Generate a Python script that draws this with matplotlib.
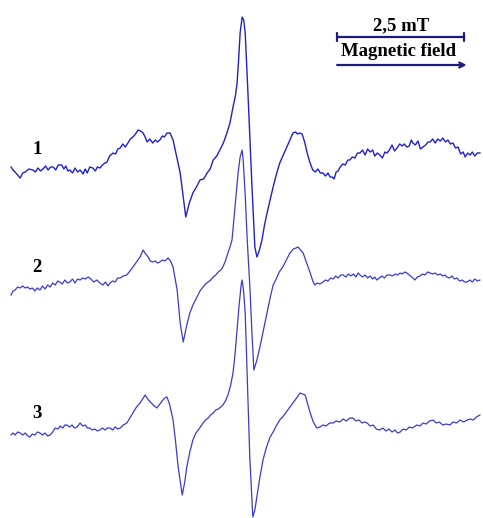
import numpy as np
import matplotlib.pyplot as plt

# EPR spectra, field in mT, signal in arbitrary units
field_1 = [0.02, 0.06, 0.10, 0.15, 0.20, 0.25, 0.30, 0.37, 0.45, 0.50, 0.55, 0.60, 0.65, 0.70,
           0.75, 0.80, 0.85, 0.90, 0.95, 1.02, 1.06, 1.10, 1.14, 1.18, 1.23, 1.28, 1.33, 1.38,
           1.44, 1.48, 1.52, 1.57, 1.63, 1.68, 1.72, 1.77, 1.84, 1.91, 1.96, 2.03, 2.08, 2.12,
           2.17, 2.22, 2.27, 2.32, 2.37, 2.42, 2.47, 2.52, 2.57, 2.62, 2.66, 2.70, 2.75, 2.81,
           2.86, 2.90, 2.95, 3.00, 3.04, 3.09, 3.15, 3.21, 3.35, 3.46, 3.53, 3.60, 3.67, 3.74,
           3.81, 3.88, 3.94, 4.00, 4.07, 4.13, 4.20, 4.27, 4.33, 4.39, 4.44, 4.47, 4.50, 4.53,
           4.57, 4.60, 4.63, 4.69, 4.76, 4.82, 4.86, 4.91, 4.96, 5.01, 5.06, 5.12, 5.18, 5.24,
           5.31, 5.38, 5.45, 5.51, 5.57, 5.62, 5.66, 5.70, 5.75, 5.80, 5.85, 5.90, 5.96, 6.01,
           6.06, 6.11, 6.16, 6.21, 6.26, 6.30, 6.34, 6.38, 6.42, 6.46, 6.50, 6.55, 6.60, 6.65,
           6.69, 6.74, 6.79, 6.84, 6.89, 6.94, 6.99, 7.04, 7.09, 7.14, 7.18, 7.23, 7.28, 7.33,
           7.38, 7.42, 7.47, 7.52, 7.57, 7.62, 7.67, 7.72, 7.76, 7.81, 7.86, 7.90, 7.93, 7.98,
           8.03, 8.08, 8.13, 8.18, 8.23, 8.27, 8.32, 8.37, 8.42, 8.47, 8.52, 8.57, 8.62, 8.67,
           8.72, 8.77, 8.82, 8.87, 8.92, 8.96, 9.01, 9.06, 9.10, 9.15, 9.20, 9.25]
signal_1 = [3, 0, -2, -5, -8, -3, -2, 1, 0, -2, 2, -1, 1, 4,
            0, 3, 3, 0, 5, 5, 1, 4, -1, 0, -3, 2, -2, 0,
            -4, 1, -3, 3, 2, -1, 3, 2, 6, 8, 14, 17, 16, 21,
            22, 26, 23, 27, 31, 33, 36, 40, 39, 37, 33, 28, 31, 27,
            30, 28, 30, 34, 33, 37, 37, 30, -3, -47, -33, -23, -17, -10,
            -9, -3, 1, 10, 14, 20, 27, 37, 47, 63, 75, 87, 110, 137,
            153, 150, 137, 70, -13, -77, -87, -80, -70, -55, -43, -30, -17, -5,
            7, 15, 23, 30, 37, 38, 36, 37, 36, 28, 17, 8, 0, -2,
            1, -3, -3, -6, -3, -7, -7, -9, -2, -1, 3, 6, 5, 10,
            10, 13, 12, 17, 17, 20, 15, 21, 18, 20, 14, 17, 15, 12,
            18, 17, 20, 25, 19, 22, 26, 24, 26, 23, 24, 30, 27, 25,
            29, 21, 23, 25, 28, 28, 31, 27, 31, 29, 32, 28, 30, 26,
            27, 22, 23, 16, 18, 13, 17, 15, 18, 14, 17, 17]

field_2 = [0.02, 0.06, 0.10, 0.15, 0.20, 0.25, 0.30, 0.35, 0.39, 0.44, 0.49, 0.54, 0.59, 0.64,
           0.69, 0.74, 0.79, 0.84, 0.89, 0.94, 0.98, 1.03, 1.08, 1.13, 1.18, 1.23, 1.28, 1.33,
           1.38, 1.43, 1.48, 1.54, 1.59, 1.65, 1.71, 1.77, 1.83, 1.88, 1.93, 1.97, 2.02, 2.07,
           2.12, 2.17, 2.23, 2.30, 2.36, 2.42, 2.49, 2.56, 2.62, 2.67, 2.72, 2.76, 2.81, 2.86,
           2.90, 2.95, 3.00, 3.05, 3.11, 3.16, 3.21, 3.29, 3.35, 3.41, 3.48, 3.54, 3.61, 3.68,
           3.74, 3.80, 3.85, 3.90, 3.95, 4.00, 4.05, 4.10, 4.15, 4.19, 4.24, 4.29, 4.33, 4.37,
           4.43, 4.49, 4.53, 4.57, 4.59, 4.63, 4.67, 4.72, 4.76, 4.80, 4.86, 4.92, 4.99, 5.06,
           5.12, 5.18, 5.24, 5.30, 5.37, 5.44, 5.51, 5.58, 5.63, 5.67, 5.72, 5.77, 5.84, 5.91,
           5.96, 6.00, 6.05, 6.10, 6.16, 6.21, 6.26, 6.31, 6.36, 6.41, 6.46, 6.51, 6.56, 6.61,
           6.66, 6.71, 6.76, 6.81, 6.85, 6.89, 6.94, 6.99, 7.04, 7.09, 7.14, 7.18, 7.22, 7.27,
           7.32, 7.37, 7.42, 7.48, 7.53, 7.58, 7.63, 7.68, 7.72, 7.77, 7.81, 7.86, 7.91, 7.97,
           8.02, 8.07, 8.12, 8.17, 8.22, 8.27, 8.32, 8.37, 8.42, 8.47, 8.52, 8.56, 8.60, 8.65,
           8.70, 8.75, 8.80, 8.85, 8.90, 8.95, 9.00, 9.05, 9.10, 9.15, 9.20, 9.25]
signal_2 = [-10, -6, -5, -2, -3, -1, -3, -2, -4, -3, -6, -3, -5, -1,
            -4, 0, -2, 2, 0, 4, 3, 1, 5, 2, 3, 6, 2, 6,
            5, 7, 6, 8, 6, 3, 5, 2, 0, 3, -1, 2, 4, 3,
            7, 7, 9, 10, 14, 18, 23, 28, 35, 31, 28, 24, 23, 24,
            22, 23, 25, 24, 27, 24, 18, -5, -38, -57, -40, -28, -19, -12,
            -6, -2, 1, 3, 5, 8, 10, 13, 15, 18, 24, 32, 38, 45,
            78, 112, 128, 135, 125, 90, 45, 0, -45, -85, -75, -62, -45, -28,
            -13, 0, 6, 13, 18, 25, 32, 36, 37, 38, 35, 32, 22, 12,
            4, 0, 2, 1, 3, 5, 4, 7, 6, 9, 7, 10, 10, 8,
            11, 9, 11, 8, 12, 10, 8, 10, 7, 9, 6, 8, 5, 7,
            9, 7, 10, 10, 9, 11, 10, 12, 11, 13, 12, 10, 8, 5,
            8, 9, 11, 10, 13, 12, 11, 12, 10, 11, 9, 10, 8, 7,
            9, 6, 7, 4, 5, 3, 3, 5, 3, 6, 4, 5]

field_3 = [0.02, 0.06, 0.10, 0.15, 0.20, 0.25, 0.30, 0.35, 0.39, 0.44, 0.49, 0.54, 0.59, 0.64,
           0.69, 0.74, 0.79, 0.84, 0.89, 0.94, 0.99, 1.04, 1.08, 1.12, 1.17, 1.22, 1.27, 1.32,
           1.38, 1.43, 1.48, 1.52, 1.57, 1.62, 1.67, 1.72, 1.77, 1.82, 1.87, 1.92, 1.97, 2.02,
           2.07, 2.12, 2.17, 2.23, 2.30, 2.36, 2.42, 2.49, 2.56, 2.61, 2.66, 2.71, 2.76, 2.82,
           2.89, 2.95, 3.01, 3.05, 3.09, 3.14, 3.21, 3.26, 3.31, 3.39, 3.44, 3.48, 3.54, 3.60,
           3.66, 3.72, 3.80, 3.85, 3.90, 3.95, 4.00, 4.05, 4.10, 4.15, 4.19, 4.24, 4.29, 4.34,
           4.39, 4.43, 4.47, 4.51, 4.55, 4.57, 4.60, 4.63, 4.66, 4.69, 4.72, 4.76, 4.78, 4.82,
           4.86, 4.92, 4.98, 5.05, 5.12, 5.18, 5.24, 5.31, 5.38, 5.44, 5.51, 5.57, 5.64, 5.71,
           5.76, 5.81, 5.86, 5.91, 5.97, 6.04, 6.10, 6.16, 6.22, 6.29, 6.36, 6.42, 6.49, 6.56,
           6.62, 6.69, 6.75, 6.81, 6.87, 6.93, 6.98, 7.03, 7.09, 7.15, 7.21, 7.28, 7.34, 7.40,
           7.46, 7.52, 7.58, 7.63, 7.68, 7.74, 7.80, 7.86, 7.92, 8.01, 8.07, 8.13, 8.19, 8.26,
           8.33, 8.39, 8.45, 8.52, 8.59, 8.66, 8.72, 8.79, 8.86, 8.93, 9.00, 9.06, 9.12, 9.18, 9.25]
signal_3 = [-3, -1, -3, 0, -1, -3, -1, -4, -5, -2, -3, 0, -1, -3,
            -1, -4, -3, 0, 4, 3, 6, 4, 7, 7, 5, 7, 4, 5,
            9, 6, 7, 4, 4, 2, 3, 1, 2, 4, 2, 4, 4, 2,
            5, 3, 4, 7, 9, 14, 19, 25, 29, 33, 37, 33, 30, 27,
            24, 28, 32, 34, 35, 28, 12, -10, -35, -63, -50, -35, -20, -8,
            -1, 3, 9, 12, 14, 17, 19, 22, 23, 25, 27, 31, 37, 46,
            59, 78, 102, 127, 147, 152, 140, 119, 70, 19, -25, -65, -85, -78,
            -65, -45, -28, -15, -5, 0, 6, 12, 16, 20, 25, 29, 34, 39,
            38, 37, 28, 19, 10, 4, 5, 7, 6, 9, 9, 11, 10, 13,
            11, 14, 14, 11, 12, 9, 10, 9, 6, 7, 3, 2, 4, 1,
            3, 0, 2, -1, 0, 3, 2, 5, 4, 7, 6, 9, 8, 11,
            12, 9, 10, 7, 8, 7, 10, 9, 12, 10, 12, 13, 12, 15, 17]

labels = ["1", "2", "3"]
baselines = [-170, -285, -432]   # vertical offset of each trace
label_y = [-150, -268, -413]
bar_start = 6.44
bar_length = 2.5   # mT

fig = plt.figure(figsize=(4.83, 5.18), dpi=100)
ax = fig.add_axes([0, 0, 1, 1])
ax.set_xlim(-0.197, 9.311)
ax.set_ylim(-518, 0)
ax.axis("off")

colors = ["#2020d0", "#3a3ad2", "#3a3ad2"]
widths = [1.0, 0.9, 0.9]
for x, y, b, c, w in zip([field_1, field_2, field_3], [signal_1, signal_2, signal_3],
                         baselines, colors, widths):
    ax.plot(np.array(x), np.array(y) + b, color=c, lw=w)

serif = ["Liberation Serif", "DejaVu Serif"]
for lab, ly in zip(labels, label_y):
    ax.text(0.53, ly, lab, fontsize=13.5, fontweight="bold", family=serif,
            ha="center", va="center", color="black")

# scale bar and field direction
bar_col = "#1c1c80"
ax.annotate("", xy=(bar_start + bar_length, -37), xytext=(bar_start, -37),
            arrowprops=dict(arrowstyle="|-|", color=bar_col, lw=1.6, mutation_scale=3,
                            shrinkA=0, shrinkB=0))
ax.text(bar_start + bar_length / 2, -26, "2,5 mT", fontsize=13.5, fontweight="bold",
        family=serif, ha="center", va="center")
ax.annotate("", xy=(bar_start + bar_length + 0.05, -65), xytext=(bar_start, -65),
            arrowprops=dict(arrowstyle="->", color=bar_col, lw=1.6, mutation_scale=9,
                            shrinkA=0, shrinkB=0))
ax.text(bar_start + bar_length / 2 - 0.05, -51, "Magnetic field", fontsize=13.5,
        fontweight="bold", family=serif, ha="center", va="center")

plt.savefig("out.png", dpi=100)
plt.close(fig)
